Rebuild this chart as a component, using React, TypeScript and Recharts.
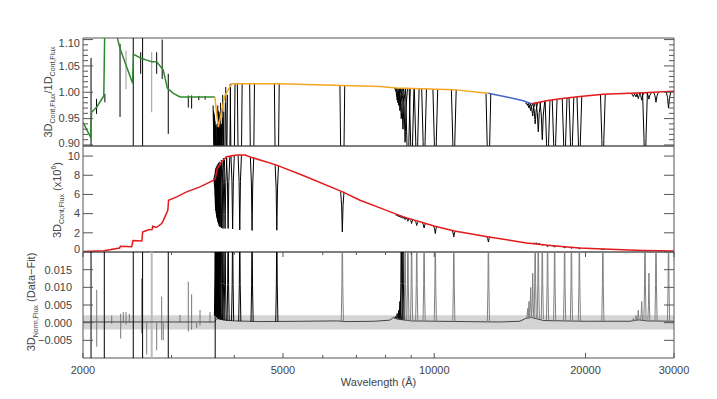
import React from 'react';
import { LineChart, Line, XAxis, YAxis, ReferenceArea } from 'recharts';

type Pt = { w: number; v: number | null };

const FONT = "'Liberation Sans', Arial, sans-serif";
const AXIS_C = '#555';
const TEXT_C = '#444';
const PLOT_L = 83;
const PLOT_R = 674;

// wavelength axis (Angstrom, log)
const waveTicks = [2000, 3000, 4000, 5000, 6000, 7000, 8000, 9000, 10000, 20000, 30000];
const waveLabels = [2000, 5000, 10000, 20000, 30000];

// ---- panel 1: 3D / 1D continuum ratio
const ratioTicks = [
  0.9, 0.91, 0.92, 0.93, 0.94, 0.95, 0.96, 0.97, 0.98, 0.99, 1.0,
  1.01, 1.02, 1.03, 1.04, 1.05, 1.06, 1.07, 1.08, 1.09, 1.1,
];
const ratioGreen: [number, number][] = [
  [2000, 0.943], [2070, 0.915], [2080, 0.962], [2130, 0.972], [2200, 0.993], [2212, 1.15],
  [2330, 1.15], [2345, 1.1], [2370, 1.083], [2510, 1.017], [2520, 1.072], [2617, 1.064],
  [2678, 1.061], [2740, 1.058], [2803, 1.058], [2889, 1.042], [2943, 1.008], [3025, 0.998],
  [3120, 0.991], [3660, 0.991],
];
const ratioOrange: [number, number][] = [
  [3660, 0.991], [3691, 0.959], [3719, 0.934], [3776, 0.965], [3833, 0.994], [3953, 1.016],
  [4900, 1.016], [6591, 1.013], [7800, 1.011], [8420, 1.008], [10898, 1.005], [12810, 0.998],
];
const ratioBlue: [number, number][] = [
  [12810, 0.998], [13937, 0.991], [15041, 0.984], [15630, 0.978],
];
const ratioRed: [number, number][] = [
  [15630, 0.978], [16740, 0.984], [17794, 0.9875], [19500, 0.992], [21694, 0.996],
  [26063, 0.999], [30000, 1.002],
];
// narrow UV features [wavelength, top, bottom]
const ratioSpikes: [number, number, number][] = [
  [2075, 1.065, 0.85], [2128, 0.9875, 0.959], [2211, 0.997, 0.981], [2370, 1.092, 0.953],
  [2518, 1.15, 0.85], [2605, 1.076, 1.035], [2628, 1.15, 0.85], [2803, 1.076, 1.035],
  [2875, 1.1, 1.025], [2956, 1.035, 0.921], [3240, 0.994, 0.971], [3290, 0.994, 0.969],
  [3400, 0.993, 0.985], [3500, 0.993, 0.986],
];
const ratioSpikesGray: [number, number, number][] = [
  [2436, 1.079, 1.006], [2740, 1.076, 0.962],
];
// absorption lines [wavelength, continuum, core]
const ratioLines: [number, number, number][] = [
  [3670, 0.975, 0.58], [3677, 0.965, 0.53], [3683, 0.962, 0.48], [3692, 0.958, 0.43],
  [3697, 0.952, 0.4], [3704, 0.945, 0.37], [3712, 0.938, 0.34], [3722, 0.935, 0.31],
  [3734, 0.94, 0.29], [3750, 0.952, 0.28], [3771, 0.963, 0.27], [3798, 0.98, 0.26],
  [3835, 0.995, 0.25], [3889, 1.01, 0.25], [3970, 1.016, 0.24], [4102, 1.016, 0.23],
  [4340, 1.016, 0.23], [4861, 1.016, 0.25], [6563, 1.013, 0.34],
  [8438, 1.008, 0.985], [8467, 1.008, 0.98], [8502, 1.008, 0.975], [8545, 1.008, 0.965],
  [8598, 1.008, 0.95], [8665, 1.008, 0.93], [8750, 1.008, 0.905], [8863, 1.008, 0.72],
  [9015, 1.008, 0.72], [9229, 1.008, 0.72], [9546, 1.007, 0.72], [10049, 1.006, 0.72],
  [10938, 1.005, 0.72], [12818, 0.998, 0.66],
  [15341, 0.98, 0.975], [15439, 0.979, 0.97], [15556, 0.979, 0.965], [15701, 0.979, 0.955],
  [15881, 0.98, 0.94], [16109, 0.981, 0.925], [16407, 0.982, 0.91], [16807, 0.984, 0.75],
  [17362, 0.986, 0.75], [18174, 0.989, 0.75], [18751, 0.99, 0.75], [19446, 0.992, 0.75],
  [21655, 0.996, 0.75],
  [24893, 0.998, 0.992], [25204, 0.998, 0.991], [25470, 0.998, 0.988], [25870, 0.999, 0.985],
  [26266, 0.999, 0.75], [26744, 0.999, 0.987], [27626, 1.0, 0.981], [29257, 1.001, 0.97],
];

// ---- panel 2: 3D continuum flux (x10^6)
const fluxTicks = [0, 2, 4, 6, 8, 10];
const fluxCont: [number, number][] = [
  [2000, 0.04], [2200, 0.12], [2365, 0.42], [2375, 0.6], [2500, 0.55], [2515, 1.2],
  [2620, 1.15], [2628, 2.08], [2700, 2.32], [2745, 2.34], [2752, 2.68], [2800, 2.55],
  [2868, 2.97], [2890, 3.3], [2950, 4.35], [2960, 5.4], [3072, 5.75], [3216, 6.27],
  [3419, 6.79], [3640, 7.49], [3665, 7.6], [3700, 8.7], [3776, 9.4], [3863, 9.93],
  [4045, 10.1], [4202, 10.1], [4333, 9.86], [4858, 9.06], [5500, 7.95], [6571, 6.27],
  [7116, 5.4], [7800, 4.6], [8680, 3.66], [9546, 3.03], [10034, 2.69], [10963, 2.19],
  [12853, 1.57], [15276, 0.95], [16810, 0.71], [18174, 0.54], [19446, 0.42], [21694, 0.3],
  [26000, 0.16], [30000, 0.1],
];
const fluxLines: [number, number, number][] = [
  [3670, 7.7, 4.6], [3677, 7.9, 4.3], [3683, 8.1, 4.0], [3692, 8.4, 3.7], [3697, 8.6, 3.5],
  [3704, 8.75, 3.3], [3712, 8.9, 3.1], [3722, 9.0, 2.9], [3734, 9.15, 2.7], [3750, 9.3, 2.6],
  [3771, 9.4, 2.5], [3798, 9.6, 2.45], [3835, 9.8, 2.45], [3889, 9.95, 2.45], [3970, 10.05, 2.4],
  [4102, 10.1, 2.3], [4340, 9.85, 2.25], [4861, 9.06, 2.27], [6563, 6.28, 2.09],
  [8438, 3.86, 3.8], [8502, 3.8, 3.72], [8545, 3.76, 3.65], [8598, 3.72, 3.58],
  [8665, 3.67, 3.5], [8750, 3.61, 3.38], [8863, 3.55, 3.2], [9015, 3.4, 2.97],
  [9229, 3.21, 2.76], [9546, 3.0, 2.51], [10049, 2.69, 1.92], [10938, 2.2, 1.57],
  [12818, 1.58, 1.04],
  [15881, 0.93, 0.88], [16109, 0.88, 0.82], [16407, 0.8, 0.72], [16807, 0.71, 0.55],
  [17362, 0.63, 0.5], [18174, 0.54, 0.43], [18751, 0.48, 0.37], [19446, 0.42, 0.34],
  [21655, 0.3, 0.24], [26266, 0.16, 0.11],
];

// ---- panel 3: normalised residuals (data - fit)
const residTicks = [-0.005, 0, 0.005, 0.01, 0.015];
const residBase: [number, number][] = [
  [2000, 0.0002], [3650, 0.0002], [3700, 0.0012], [3800, 0.0008], [4000, 0.0005],
  [4500, 0.0003], [5500, 0.0004], [6400, 0.0005], [6700, 0.0003], [7600, 0.0004],
  [8150, 0.0007], [8300, 0.0015], [8450, 0.001], [9000, 0.0005], [11500, 0.0003],
  [13500, 0.0002], [14800, 0.0004], [15200, 0.0012], [15600, 0.0015], [16500, 0.0006],
  [20000, 0.0004], [24500, 0.0004], [25500, 0.0008], [26500, 0.0005], [30000, 0.0004],
];
const residSpikesGray: [number, number, number][] = [
  [2130, 0.0093, -0.0068], [2281, 0.002, -0.0003], [2377, 0.0025, -0.0045], [2406, 0.003, 0],
  [2436, 0.003, -0.0005], [2473, 0.0025, 0], [2617, 0.0125, -0.003], [2678, 0.0, -0.009],
  [2803, 0.0, -0.0078], [2868, 0.0074, -0.0049], [2889, 0.0, -0.005], [3120, 0.0022, 0],
  [3240, 0.0116, -0.0025], [3290, 0.008, -0.002], [3367, 0.0, -0.0015], [3419, 0.0036, -0.0008],
  [3579, 0.003, 0],
];
const residSpikesBlack: [number, number, number][] = [
  [2075, 0.03, -0.02], [2205, 0.03, -0.02], [2518, 0.03, -0.02], [2628, 0.03, -0.02],
  [2956, 0.03, -0.02], [3665, 0.03, -0.02],
];
const residSpikesLight: [number, number, number][] = [[2740, 0.03, -0.02]];
// emission-like residual peaks [wavelength, base, peak]
const residPeaksBlack: [number, number, number][] = [
  [3670, 0.002, 0.03], [3677, 0.002, 0.03], [3683, 0.002, 0.03], [3692, 0.002, 0.03],
  [3697, 0.002, 0.03], [3704, 0.0015, 0.03], [3712, 0.0015, 0.03], [3722, 0.0012, 0.03],
  [3734, 0.001, 0.03], [3750, 0.001, 0.03], [3771, 0.0008, 0.03], [3798, 0.0008, 0.03],
  [3835, 0.0006, 0.03], [3889, 0.0005, 0.03], [3970, 0.0005, 0.03], [4102, 0.0004, 0.03],
  [4340, 0.0003, 0.03], [4861, 0.0003, 0.03],
  [8380, 0.0012, 0.0018], [8438, 0.0013, 0.0026], [8502, 0.0011, 0.0035],
  [8545, 0.001, 0.006], [8598, 0.001, 0.03], [8665, 0.0008, 0.03],
];
const residPeaksGray: [number, number, number][] = [
  [6563, 0.0004, 0.03], [8750, 0.0006, 0.03], [8863, 0.0006, 0.03], [9015, 0.0005, 0.03],
  [9229, 0.0005, 0.03], [9546, 0.0004, 0.03], [10049, 0.0004, 0.03], [10938, 0.0003, 0.03],
  [12818, 0.0002, 0.03],
  [15341, 0.0012, 0.004], [15439, 0.0012, 0.006], [15556, 0.0013, 0.01], [15701, 0.0013, 0.014],
  [15881, 0.0012, 0.03], [16109, 0.0011, 0.03], [16407, 0.001, 0.03], [16807, 0.0008, 0.03],
  [17362, 0.0006, 0.03], [18174, 0.0005, 0.03], [18751, 0.0005, 0.03], [19446, 0.0004, 0.03],
  [21655, 0.0004, 0.03],
  [24893, 0.0005, 0.0012], [25204, 0.0006, 0.002], [25470, 0.0006, 0.0035], [25870, 0.0007, 0.006],
  [26266, 0.0006, 0.03], [26744, 0.0005, 0.014], [27626, 0.0005, 0.03], [29257, 0.0005, 0.03],
];

// line shape template: [relative offset in wavelength, fraction of depth]
const PROFILE: [number, number][] = [
  [-0.011, 0], [-0.0045, 0.35], [-0.0015, 0.8], [0, 1], [0.0015, 0.8], [0.0045, 0.35], [0.011, 0],
];

const toPts = (arr: [number, number][]): Pt[] => arr.map(([w, v]) => ({ w, v }));

function profiles(lines: [number, number, number][], scale = 1): Pt[] {
  const out: Pt[] = [];
  lines.forEach(([w, base, core]) => {
    PROFILE.forEach(([dx, f]) => out.push({ w: w * (1 + dx * scale), v: base + (core - base) * f }));
    out.push({ w: w * (1 + 0.011 * scale), v: null });
  });
  return out;
}

function spikes(list: [number, number, number][]): Pt[] {
  return list.flatMap(([w, a, b]) => [{ w, v: a }, { w, v: b }, { w, v: null }]);
}

function makeXTick(top: number, bottom: number, showLabel: boolean) {
  return (props: any) => {
    const { x, payload } = props;
    const major = waveLabels.includes(payload.value);
    const len = major ? 5 : 3;
    return (
      <g>
        <line x1={x} x2={x} y1={bottom} y2={bottom - len} stroke={AXIS_C} />
        <line x1={x} x2={x} y1={top} y2={top + len} stroke={AXIS_C} />
        {showLabel && major ? (
          <text x={x} y={bottom + 16} textAnchor="middle" fontSize={11} fill={TEXT_C} fontFamily={FONT}>
            {payload.value}
          </text>
        ) : null}
      </g>
    );
  };
}

function makeYTick(top: number, bottom: number, isMajor: (v: number) => boolean, fmt: (v: number) => string, labelRight: number) {
  return (props: any) => {
    const { y, payload } = props;
    const v = payload.value;
    const major = isMajor(v);
    const len = major ? 10 : 5;
    let ly = y;
    if (y - top < 5) ly = top + 5;
    if (bottom - y < 5) ly = bottom - 3;
    return (
      <g>
        <line x1={PLOT_L} x2={PLOT_L + len} y1={y} y2={y} stroke={AXIS_C} />
        <line x1={PLOT_R - len} x2={PLOT_R} y1={y} y2={y} stroke={AXIS_C} />
        {major ? (
          <text x={labelRight} y={ly} dy="0.35em" textAnchor="end" fontSize={11} fill={TEXT_C} fontFamily={FONT}>
            {fmt(v)}
          </text>
        ) : null}
      </g>
    );
  };
}

function RatioTitle(_: any) {
  return (
    <text transform="translate(52,92) rotate(-90)" textAnchor="middle" fontSize={11} fill={TEXT_C} fontFamily={FONT}>
      3D<tspan fontSize={7} dy={3}>Cont,Flux</tspan>
      <tspan dy={-3}>/1D</tspan>
      <tspan fontSize={7} dy={3}>Cont,Flux</tspan>
    </text>
  );
}

function FluxTitle(_: any) {
  return (
    <text transform="translate(61,54) rotate(-90)" textAnchor="middle" fontSize={11} fill={TEXT_C} fontFamily={FONT}>
      3D<tspan fontSize={7} dy={3}>Cont,Flux</tspan>
      <tspan dy={-3}>{'  (x10'}</tspan>
      <tspan fontSize={7} dy={-5}>6</tspan>
      <tspan dy={5}>)</tspan>
    </text>
  );
}

function ResidTitle(_: any) {
  return (
    <text transform="translate(35,50) rotate(-90)" textAnchor="middle" fontSize={11} fill={TEXT_C} fontFamily={FONT}>
      3D<tspan fontSize={7} dy={3}>Norm,Flux</tspan>
      <tspan dy={-3}>{'  (Data\u2212Fit)'}</tspan>
    </text>
  );
}

function WaveTitle(_: any) {
  return (
    <text x={378.5} y={134} textAnchor="middle" fontSize={11} fill={TEXT_C} fontFamily={FONT}>
      Wavelength (Å)
    </text>
  );
}

const seriesProps = { dataKey: 'v', dot: false, isAnimationActive: false, connectNulls: false, activeDot: false } as const;

const xAxisBase = {
  dataKey: 'w',
  type: 'number' as const,
  scale: 'log' as const,
  domain: [2000, 30000],
  allowDataOverflow: true,
  ticks: waveTicks,
  interval: 0 as const,
  tickSize: 0,
  tickMargin: 0,
  axisLine: false,
  tickLine: false,
};

const yAxisBase = {
  type: 'number' as const,
  allowDataOverflow: true,
  interval: 0 as const,
  width: 83,
  tickSize: 0,
  tickMargin: 0,
  axisLine: false,
  tickLine: false,
};

export default function App() {
  const ratioDomain = [0.898, 1.103];
  const fluxDomain = [0, 11.05];
  const residDomain = [-0.01, 0.02];
  return (
    <div style={{ position: 'relative', width: 717, height: 399, background: '#fff', overflow: 'hidden' }}>
      <style>{'body{margin:0} svg{overflow:visible}'}</style>

      <div style={{ position: 'absolute', left: 0, top: 0 }}>
        <LineChart width={717} height={146} margin={{ top: 38, right: 43, bottom: 0, left: 0 }}>
          <XAxis {...xAxisBase} height={0} tick={makeXTick(38, 146, false)} />
          <YAxis
            {...yAxisBase}
            domain={ratioDomain}
            ticks={ratioTicks}
            tick={makeYTick(38, 146, (v) => Math.round(v * 100) % 5 === 0, (v) => v.toFixed(2), 80)}
            label={<RatioTitle />}
          />
          <Line {...seriesProps} data={spikes(ratioSpikesGray)} stroke="#999" strokeWidth={1} />
          <Line {...seriesProps} data={spikes(ratioSpikes)} stroke="#000" strokeWidth={1} />
          <Line {...seriesProps} data={profiles(ratioLines)} stroke="#000" strokeWidth={1} />
          <Line {...seriesProps} data={toPts(ratioGreen)} stroke="#2f8a2f" strokeWidth={1.5} />
          <Line {...seriesProps} data={toPts(ratioOrange)} stroke="#f5a623" strokeWidth={1.5} />
          <Line {...seriesProps} data={toPts(ratioBlue)} stroke="#4565c8" strokeWidth={1.5} />
          <Line {...seriesProps} data={toPts(ratioRed)} stroke="#e31a1c" strokeWidth={1.5} />
          <ReferenceArea x1={2000} x2={30000} y1={ratioDomain[0]} y2={ratioDomain[1]} fill="none" stroke={AXIS_C} ifOverflow="visible" />
        </LineChart>
      </div>

      <div style={{ position: 'absolute', left: 0, top: 146 }}>
        <LineChart width={717} height={106} margin={{ top: 0, right: 43, bottom: 0, left: 0 }}>
          <XAxis {...xAxisBase} height={0} tick={makeXTick(0, 106, false)} />
          <YAxis
            {...yAxisBase}
            domain={fluxDomain}
            ticks={fluxTicks}
            tick={makeYTick(0, 106, () => true, (v) => String(v), 80)}
            label={<FluxTitle />}
          />
          <Line {...seriesProps} data={profiles(fluxLines, 0.7)} stroke="#000" strokeWidth={1} />
          <Line {...seriesProps} data={toPts(fluxCont)} stroke="#e31a1c" strokeWidth={1.5} />
          <ReferenceArea x1={2000} x2={30000} y1={fluxDomain[0]} y2={fluxDomain[1]} fill="none" stroke={AXIS_C} ifOverflow="visible" />
        </LineChart>
      </div>

      <div style={{ position: 'absolute', left: 0, top: 252 }}>
        <LineChart width={717} height={147} margin={{ top: 0, right: 43, bottom: 0, left: 0 }}>
          <XAxis {...xAxisBase} height={41} tick={makeXTick(0, 106, true)} label={<WaveTitle />} />
          <YAxis
            {...yAxisBase}
            domain={residDomain}
            ticks={residTicks}
            tick={makeYTick(0, 106, () => true, (v) => v.toFixed(3).replace('-', '\u2212'), 72)}
            label={<ResidTitle />}
          />
          <ReferenceArea x1={2000} x2={30000} y1={-0.0019} y2={0.0021} fill="#d4d4d4" fillOpacity={1} stroke="none" />
          <Line {...seriesProps} data={spikes(residSpikesLight)} stroke="#bbb" strokeWidth={2} />
          <Line {...seriesProps} data={spikes(residSpikesGray)} stroke="#777" strokeWidth={1} />
          <Line {...seriesProps} data={toPts(residBase)} stroke="#444" strokeWidth={1} />
          <Line {...seriesProps} data={profiles(residPeaksGray, 0.45)} stroke="#808080" strokeWidth={1} />
          <Line {...seriesProps} data={profiles(residPeaksBlack, 0.45)} stroke="#000" strokeWidth={1} />
          <Line {...seriesProps} data={spikes(residSpikesBlack)} stroke="#000" strokeWidth={1} />
          <ReferenceArea x1={2000} x2={30000} y1={residDomain[0]} y2={residDomain[1]} fill="none" stroke={AXIS_C} ifOverflow="visible" />
        </LineChart>
      </div>
    </div>
  );
}
